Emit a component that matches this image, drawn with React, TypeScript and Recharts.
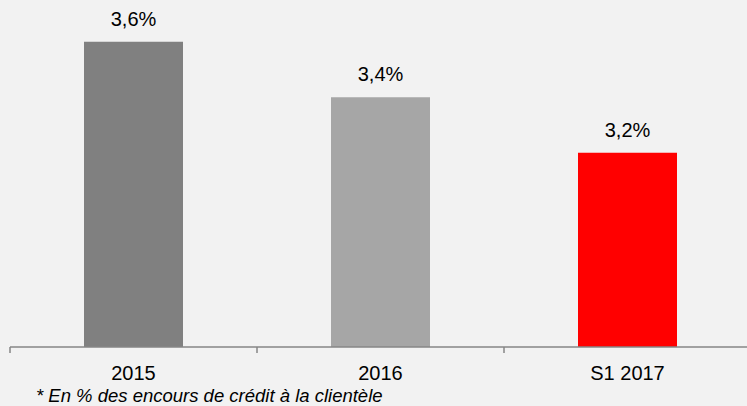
import { BarChart, Bar, XAxis, YAxis, Cell, LabelList } from "recharts"

const categories = ["2015", "2016", "S1 2017"]
const values = [3.6, 3.4, 3.2]
const labels = ["3,6%", "3,4%", "3,2%"]
const colors = ["#808080", "#a6a6a6", "#ff0000"]
const footnote = "* En % des encours de crédit à la clientèle"

const chartWidth = 760
const chartHeight = 406
const margin = { top: 14, right: 9, bottom: 0, left: 10 }
const band = (chartWidth - margin.left - margin.right) / categories.length
const axisColor = "#868686"
const font = "'Liberation Sans', Arial, sans-serif"

const data = categories.map((c, i) => ({ name: c, value: values[i], label: labels[i] }))

// tick marks sit on the category boundaries, labels in the middle
function Tick(props: any) {
  const { x, y, payload } = props
  return (
    <g>
      <line x1={x - band / 2} x2={x - band / 2} y1={y} y2={y + 6} stroke={axisColor} strokeWidth={1.5} />
      <text x={x} y={y + 33} textAnchor="middle" fill="#000" fontSize={20} fontFamily={font}>
        {payload.value}
      </text>
    </g>
  )
}

export default function App() {
  return (
    <div
      style={{
        position: "absolute",
        left: 0,
        top: 0,
        width: 747,
        height: 406,
        overflow: "hidden",
        background: "#f2f2f2",
      }}
    >
      <BarChart width={chartWidth} height={chartHeight} data={data} margin={margin}>
        <XAxis
          dataKey="name"
          height={59}
          tick={<Tick />}
          tickLine={false}
          tickSize={0}
          tickMargin={0}
          axisLine={{ stroke: axisColor, strokeWidth: 1.5 }}
          interval={0}
        />
        <YAxis hide domain={[2.5, 3.7]} allowDataOverflow />
        <Bar dataKey="value" barSize={99} isAnimationActive={false}>
          {data.map((d, i) => (
            <Cell key={d.name} fill={colors[i]} />
          ))}
          <LabelList
            dataKey="label"
            position="top"
            offset={16}
            fill="#000"
            fontSize={20}
            fontFamily={font}
          />
        </Bar>
      </BarChart>
      <div
        style={{
          position: "absolute",
          left: 36,
          top: 385,
          fontFamily: font,
          fontStyle: "italic",
          fontSize: 18.5,
          lineHeight: "21px",
          color: "#000",
          whiteSpace: "nowrap",
        }}
      >
        {footnote}
      </div>
    </div>
  )
}
